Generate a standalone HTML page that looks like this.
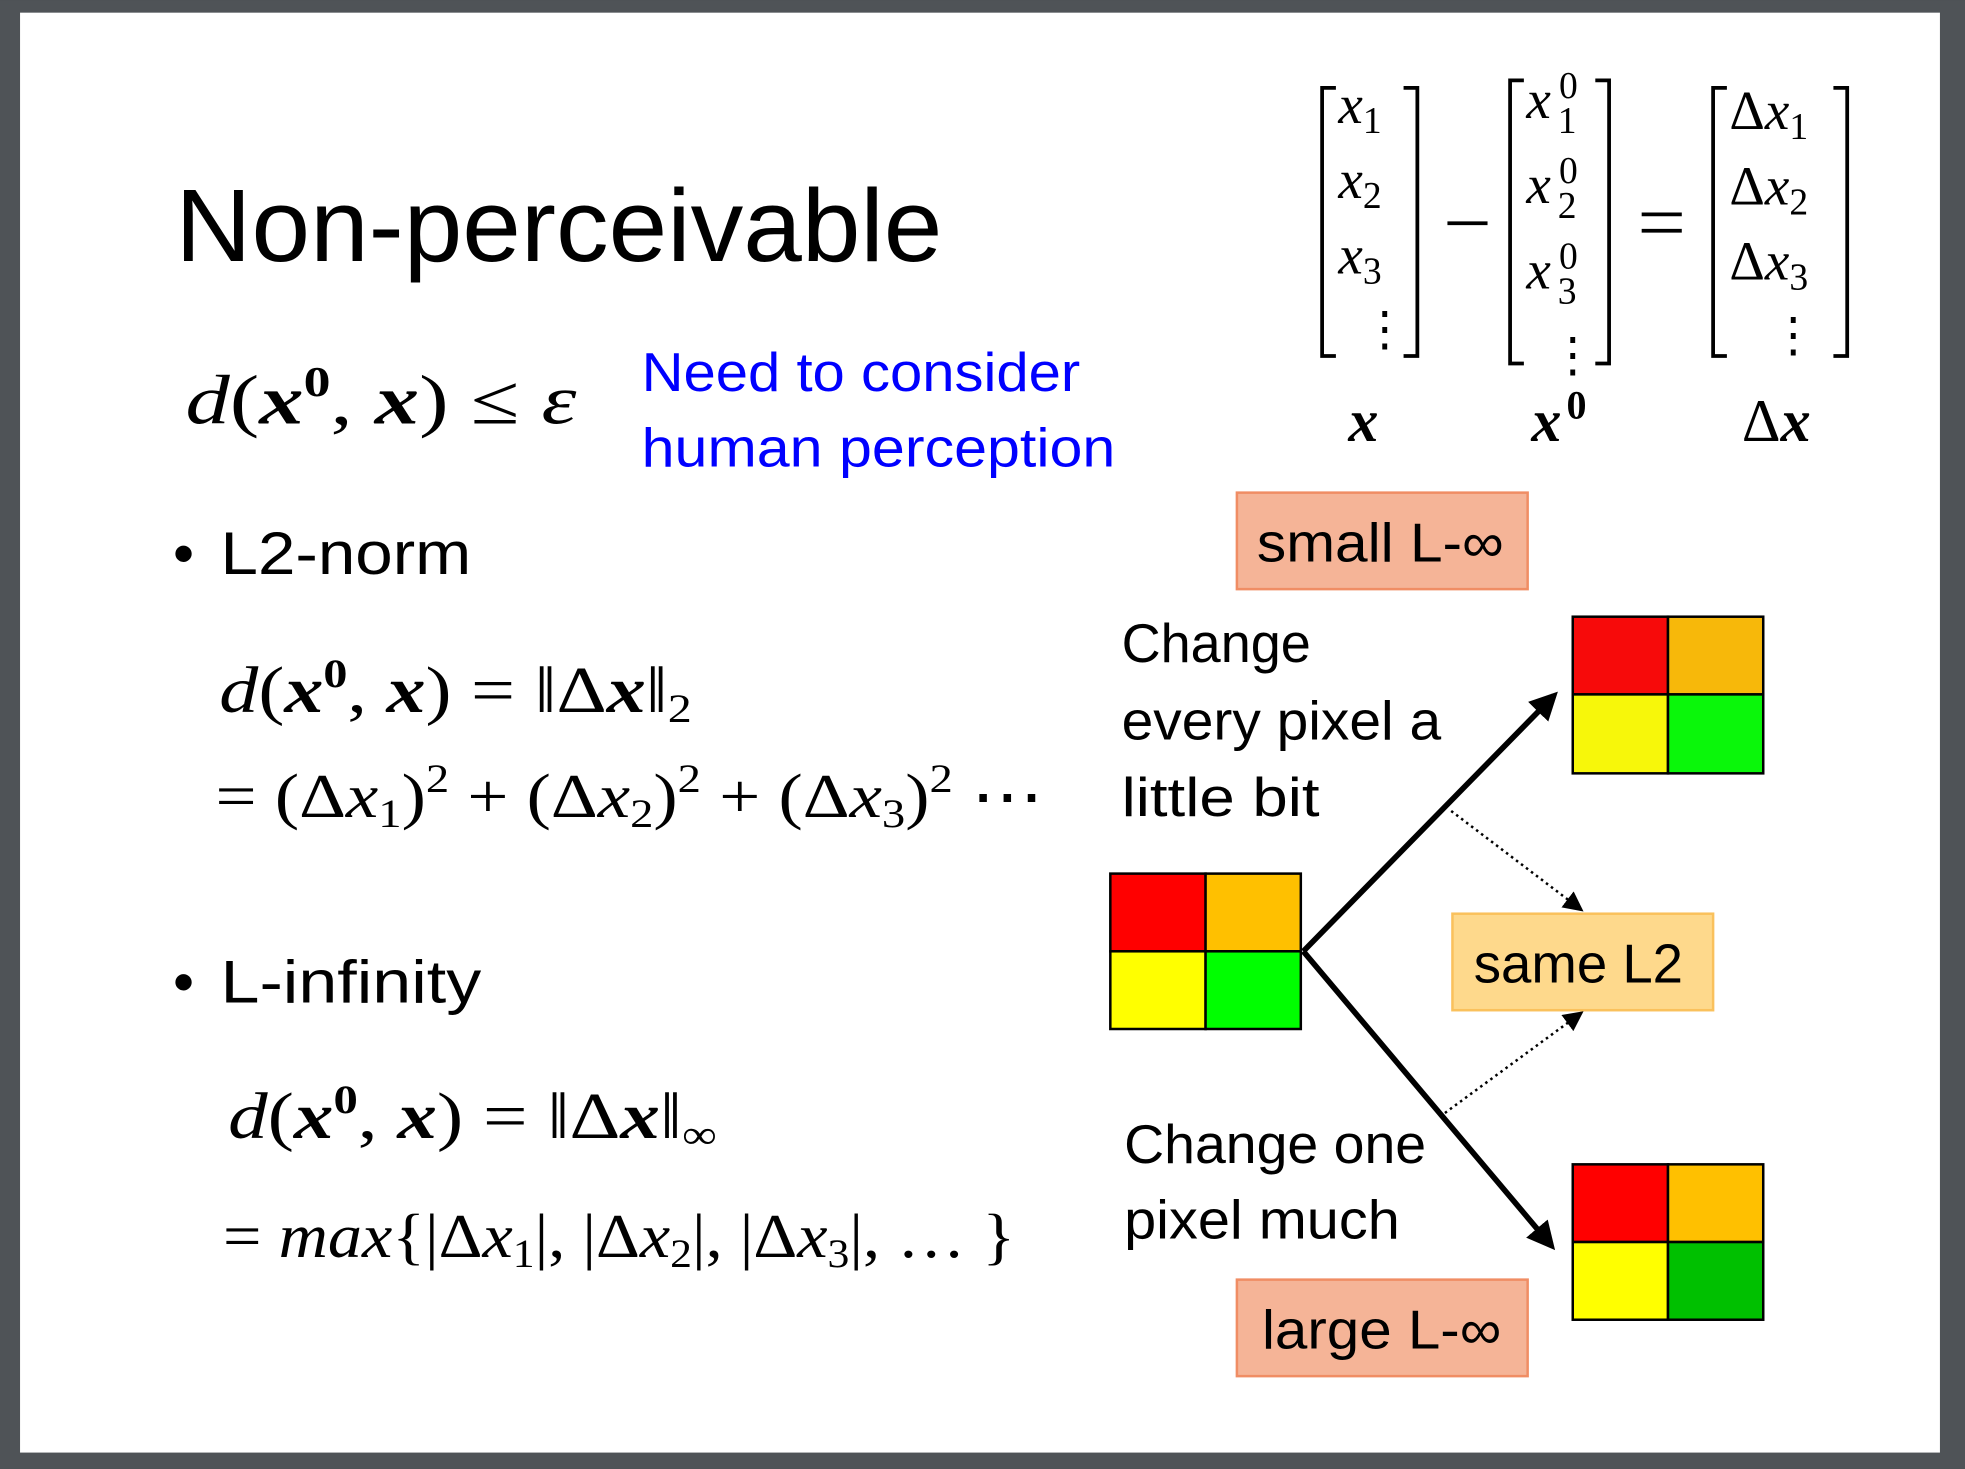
<!DOCTYPE html>
<html><head><meta charset="utf-8"><style>
html,body{margin:0;padding:0;background:#4f5357;width:1965px;height:1469px;overflow:hidden}
svg{display:block}
.s{font-family:"Liberation Sans","DejaVu Sans",sans-serif}
.m{font-family:"Liberation Serif","DejaVu Serif",serif}
</style></head><body>
<svg width="1965" height="1469" viewBox="0 0 1568 1172" xmlns="http://www.w3.org/2000/svg">
<rect x="0" y="0" width="1568" height="1172" fill="#4f5357"/>
<rect x="16" y="10" width="1532" height="1149" fill="#fff"/>

<text x="140" y="208" class="s" font-size="82" fill="#000" textLength="612" lengthAdjust="spacingAndGlyphs">Non-perceivable</text>

<text x="148" y="338" class="m" font-size="56" textLength="312" lengthAdjust="spacingAndGlyphs"><tspan font-style="italic">d</tspan>(<tspan font-weight="bold" font-style="italic">x</tspan><tspan font-size="34" dy="-22" font-weight="bold">0</tspan><tspan dy="22">, </tspan><tspan font-weight="bold" font-style="italic">x</tspan>) ≤ <tspan font-style="italic">ε</tspan></text>

<text x="512" y="312" class="s" font-size="44" fill="#0000ff" textLength="350" lengthAdjust="spacingAndGlyphs">Need to consider</text>
<text x="512" y="372" class="s" font-size="44" fill="#0000ff" textLength="378" lengthAdjust="spacingAndGlyphs">human perception</text>

<text x="138" y="458" class="s" font-size="48">•</text>
<text x="176" y="458" class="s" font-size="48" textLength="200" lengthAdjust="spacingAndGlyphs">L2-norm</text>
<text x="175" y="568" class="m" font-size="52" textLength="377" lengthAdjust="spacingAndGlyphs"><tspan font-style="italic">d</tspan>(<tspan font-weight="bold" font-style="italic">x</tspan><tspan font-size="32" dy="-20" font-weight="bold">0</tspan><tspan dy="20">, </tspan><tspan font-weight="bold" font-style="italic">x</tspan>) = ‖Δ<tspan font-weight="bold" font-style="italic">x</tspan>‖<tspan font-size="32" dy="8">2</tspan></text>
<text x="172" y="652" class="m" font-size="50" textLength="661" lengthAdjust="spacingAndGlyphs">= (Δ<tspan font-style="italic">x</tspan><tspan font-size="32" dy="8">1</tspan><tspan dy="-8">)</tspan><tspan font-size="32" dy="-20">2</tspan><tspan dy="20"> + (Δ</tspan><tspan font-style="italic">x</tspan><tspan font-size="32" dy="8">2</tspan><tspan dy="-8">)</tspan><tspan font-size="32" dy="-20">2</tspan><tspan dy="20"> + (Δ</tspan><tspan font-style="italic">x</tspan><tspan font-size="32" dy="8">3</tspan><tspan dy="-8">)</tspan><tspan font-size="32" dy="-20">2</tspan><tspan dy="20"> ⋯</tspan></text>

<text x="138" y="800" class="s" font-size="48">•</text>
<text x="176" y="800" class="s" font-size="48" textLength="208" lengthAdjust="spacingAndGlyphs">L-infinity</text>
<text x="182" y="908" class="m" font-size="52" textLength="390" lengthAdjust="spacingAndGlyphs"><tspan font-style="italic">d</tspan>(<tspan font-weight="bold" font-style="italic">x</tspan><tspan font-size="32" dy="-20" font-weight="bold">0</tspan><tspan dy="20">, </tspan><tspan font-weight="bold" font-style="italic">x</tspan>) = ‖Δ<tspan font-weight="bold" font-style="italic">x</tspan>‖<tspan font-size="32" dy="8">∞</tspan></text>
<text x="178" y="1003" class="m" font-size="50" textLength="632" lengthAdjust="spacingAndGlyphs">= <tspan font-style="italic">max</tspan>{|Δ<tspan font-style="italic">x</tspan><tspan font-size="32" dy="8">1</tspan><tspan dy="-8">|, |Δ</tspan><tspan font-style="italic">x</tspan><tspan font-size="32" dy="8">2</tspan><tspan dy="-8">|, |Δ</tspan><tspan font-style="italic">x</tspan><tspan font-size="32" dy="8">3</tspan><tspan dy="-8">|, … }</tspan></text>

<!-- matrices -->
<g fill="none" stroke="#000" stroke-width="3">
<path d="M1066,70 H1055 V284 H1066"/><path d="M1120,70 H1131 V284 H1120"/>
<path d="M1216,64 H1205 V290 H1216"/><path d="M1273,64 H1284 V290 H1273"/>
<path d="M1378,70 H1367 V284 H1378"/><path d="M1463,70 H1474 V284 H1463"/>
<line x1="1155" y1="178" x2="1187" y2="178"/>
<line x1="1310" y1="171" x2="1342" y2="171"/><line x1="1310" y1="184" x2="1342" y2="184"/>
</g>
<g class="m" font-size="44">
<text x="1068" y="98" font-style="italic">x<tspan font-style="normal" font-size="30" dy="8">1</tspan></text>
<text x="1068" y="158" font-style="italic">x<tspan font-style="normal" font-size="30" dy="8">2</tspan></text>
<text x="1068" y="218" font-style="italic">x<tspan font-style="normal" font-size="30" dy="8">3</tspan></text>
<text x="1086" y="275" font-size="38">⋮</text>
<text x="1218" y="94" font-style="italic">x</text><text x="1244" y="78" font-size="30">0</text><text x="1243" y="106" font-size="30">1</text>
<text x="1218" y="162" font-style="italic">x</text><text x="1244" y="146" font-size="30">0</text><text x="1243" y="174" font-size="30">2</text>
<text x="1218" y="230" font-style="italic">x</text><text x="1244" y="214" font-size="30">0</text><text x="1243" y="242" font-size="30">3</text>
<text x="1236" y="296" font-size="38">⋮</text>
<text x="1380" y="103">Δ<tspan font-style="italic">x</tspan><tspan font-size="30" dy="8">1</tspan></text>
<text x="1380" y="163">Δ<tspan font-style="italic">x</tspan><tspan font-size="30" dy="8">2</tspan></text>
<text x="1380" y="223">Δ<tspan font-style="italic">x</tspan><tspan font-size="30" dy="8">3</tspan></text>
<text x="1412" y="280" font-size="38">⋮</text>
<text x="1076" y="352" font-weight="bold" font-style="italic" font-size="48">x</text>
<text x="1222" y="352" font-weight="bold" font-style="italic" font-size="48">x</text><text x="1250" y="334" font-weight="bold" font-size="32">0</text>
<text x="1390" y="352" font-size="48">Δ<tspan font-weight="bold" font-style="italic">x</tspan></text>
</g>

<!-- boxes -->
<rect x="987" y="393" width="232" height="77" fill="#f5b497" stroke="#f08d64" stroke-width="2"/>
<text x="1003" y="448" class="s" font-size="44" textLength="197" lengthAdjust="spacingAndGlyphs">small L-∞</text>
<rect x="1159" y="729" width="208" height="77" fill="#fed98c" stroke="#fac15c" stroke-width="2"/>
<text x="1176" y="784" class="s" font-size="44" textLength="167" lengthAdjust="spacingAndGlyphs">same L2</text>
<rect x="987" y="1021" width="232" height="77" fill="#f5b497" stroke="#f08d64" stroke-width="2"/>
<text x="1007" y="1076" class="s" font-size="44" textLength="191" lengthAdjust="spacingAndGlyphs">large L-∞</text>

<g class="s" font-size="44">
<text x="895" y="528" textLength="151" lengthAdjust="spacingAndGlyphs">Change</text><text x="895" y="590" textLength="255" lengthAdjust="spacingAndGlyphs">every pixel a</text><text x="895" y="651" textLength="158" lengthAdjust="spacingAndGlyphs">little bit</text>
</g>
<g class="s" font-size="44">
<text x="897" y="928" textLength="241" lengthAdjust="spacingAndGlyphs">Change one</text><text x="897" y="988" textLength="220" lengthAdjust="spacingAndGlyphs">pixel much</text>
</g>

<!-- grids -->
<g stroke="#000" stroke-width="2">
<rect x="886" y="697" width="76" height="62" fill="#ff0000"/><rect x="962" y="697" width="76" height="62" fill="#ffc000"/>
<rect x="886" y="759" width="76" height="62" fill="#ffff00"/><rect x="962" y="759" width="76" height="62" fill="#00ff00"/>
</g>
<g stroke="#000" stroke-width="2">
<rect x="1255" y="492" width="76" height="62" fill="#f70a0a"/><rect x="1331" y="492" width="76" height="62" fill="#f7b80a"/>
<rect x="1255" y="554" width="76" height="63" fill="#f7f70a"/><rect x="1331" y="554" width="76" height="63" fill="#0af70a"/>
</g>
<g stroke="#000" stroke-width="2">
<rect x="1255" y="929" width="76" height="62" fill="#ff0000"/><rect x="1331" y="929" width="76" height="62" fill="#ffc000"/>
<rect x="1255" y="991" width="76" height="62" fill="#ffff00"/><rect x="1331" y="991" width="76" height="62" fill="#00c000"/>
</g>

<defs>
<marker id="ah" markerWidth="5" markerHeight="5" refX="4" refY="2.5" orient="auto" markerUnits="strokeWidth"><path d="M0,0 L5,2.5 L0,5 z" fill="#000"/></marker>
<marker id="ah2" markerWidth="8" markerHeight="8" refX="7" refY="4" orient="auto" markerUnits="strokeWidth"><path d="M0,0 L8,4 L0,8 z" fill="#000"/></marker>
</defs>
<line x1="1040" y1="759" x2="1240" y2="555" stroke="#000" stroke-width="4.5" marker-end="url(#ah)"/>
<line x1="1040" y1="759" x2="1238" y2="994" stroke="#000" stroke-width="4.5" marker-end="url(#ah)"/>
<line x1="1158" y1="647" x2="1262" y2="726" stroke="#000" stroke-width="2" stroke-dasharray="2,3" marker-end="url(#ah2)"/>
<line x1="1153" y1="888" x2="1262" y2="808" stroke="#000" stroke-width="2" stroke-dasharray="2,3" marker-end="url(#ah2)"/>
</svg>
</body></html>
